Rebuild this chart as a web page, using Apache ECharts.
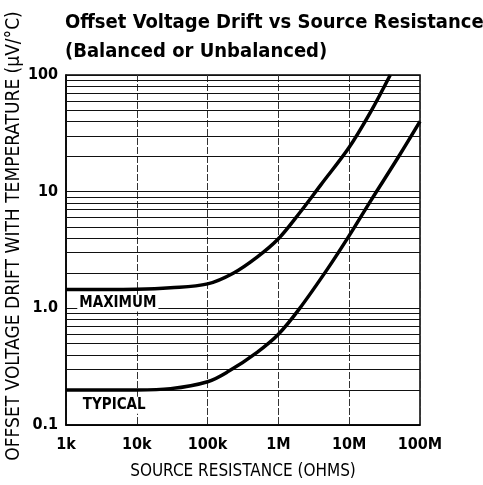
<!DOCTYPE html>
<html>
<head>
<meta charset="utf-8">
<script src="https://cdn.jsdelivr.net/npm/echarts@6/dist/echarts.min.js"></script>
<style>
  html, body { margin: 0; padding: 0; background: #fff; }
  #chart { width: 483px; height: 485px; }
</style>
</head>
<body>
<div id="chart"></div>
<script>
// source resistance (ohms) / drift (uV/C)
var maxR = [1e3, 1e4, 3e4, 1e5, 2.3e5, 5e5, 1e6, 2e6, 4e6, 1e7, 2e7, 3.8e7]
var maxDrift = [1.45, 1.46, 1.5, 1.62, 2.0, 2.75, 3.95, 6.6, 11.5, 24, 48, 100]
var typR = [1e3, 1e4, 3e4, 1e5, 2e5, 5e5, 1e6, 2e6, 5e6, 1e7, 2e7, 5e7, 1e8]
var typDrift = [0.2, 0.2, 0.205, 0.235, 0.29, 0.42, 0.6, 1.0, 2.2, 4.2, 8.3, 20, 40]

var xTickLabels = ['1k', '10k', '100k', '1M', '10M', '100M']
var yTickLabels = ['0.1', '1.0', '10', '100']
// minor horizontal grid lines (2..9 of each decade)
var minorGrid = [0.2, 0.3, 0.4, 0.5, 0.6, 0.7, 0.8, 0.9,
  2, 3, 4, 5, 6, 7, 8, 9,
  20, 30, 40, 50, 60, 70, 80, 90]

var narrow = "'Liberation Sans Narrow', 'DejaVu Sans Condensed', sans-serif"

function pairs (xs, ys) {
  var out = []
  for (var i = 0; i < xs.length; i++) out.push([xs[i], ys[i]])
  return out
}
// decade index of a tick value (1e3 -> 0, 0.1 -> 0)
function decade (v, base) {
  return Math.round(Math.log10(v / base))
}

var chart = echarts.init(document.getElementById('chart'))
var option = {
  animation: false,
  backgroundColor: '#fff',
  title: {
    text: 'Offset Voltage Drift vs Source Resistance\n(Balanced or Unbalanced)',
    left: 60,
    top: 3,
    textStyle: {
      fontFamily: narrow,
      fontSize: 20,
      fontWeight: 900,
      color: '#000',
      lineHeight: 29
    }
  },
  grid: {
    left: 66,
    top: 75,
    width: 354,
    height: 350,
    containLabel: false,
    outerBoundsMode: 'none',
    show: true,
    borderColor: '#000',
    borderWidth: 1.5,
    backgroundColor: '#fff'
  },
  xAxis: {
    type: 'log',
    logBase: 10,
    min: 1e3,
    max: 1e8,
    name: 'SOURCE RESISTANCE (OHMS)',
    nameLocation: 'middle',
    nameGap: 38,
    nameTextStyle: { fontFamily: narrow, fontSize: 17, color: '#000' },
    axisLine: { lineStyle: { color: '#000', width: 1.5 } },
    axisTick: { show: false },
    axisLabel: {
      margin: 12,
      fontFamily: narrow,
      fontSize: 16,
      fontWeight: 'bold',
      color: '#000',
      formatter: function (v) { return xTickLabels[decade(v, 1e3)] }
    },
    splitLine: { show: true, lineStyle: { color: '#333', width: 1, type: [7, 2] } }
  },
  yAxis: {
    type: 'log',
    logBase: 10,
    min: 0.1,
    max: 100,
    name: 'OFFSET VOLTAGE DRIFT WITH TEMPERATURE (\u03bcV/\u00b0C)',
    nameLocation: 'middle',
    nameGap: 42,
    nameMoveOverlap: false,
    nameTextStyle: { fontFamily: narrow, fontSize: 19, color: '#000', padding: [0, 0, 0, 28] },
    axisLine: { lineStyle: { color: '#000', width: 1.5 } },
    axisTick: { show: false },
    axisLabel: {
      margin: 8,
      fontFamily: narrow,
      fontSize: 16,
      fontWeight: 'bold',
      color: '#000',
      formatter: function (v) { return yTickLabels[decade(v, 0.1)] }
    },
    splitLine: { show: true, lineStyle: { color: '#111', width: 1 } }
  },
  series: [
    {
      type: 'line',
      data: [],
      silent: true,
      markLine: {
        silent: true,
        symbol: 'none',
        label: { show: false },
        lineStyle: { color: '#111', width: 1, type: 'solid' },
        data: minorGrid.map(function (v) { return { yAxis: v } })
      }
    },
    {
      name: 'MAXIMUM',
      type: 'line',
      smooth: 0.35,
      showSymbol: false,
      lineStyle: { color: '#000', width: 3.5 },
      data: pairs(maxR, maxDrift),
      z: 5,
      markPoint: {
        symbol: 'rect',
        symbolSize: 0,
        label: {
          show: true,
          formatter: 'MAXIMUM',
          fontFamily: narrow,
          fontSize: 15,
          fontWeight: 'bold',
          color: '#000',
          backgroundColor: '#fff',
          padding: [1, 2]
        },
        data: [{ coord: [5.4e3, 1.11] }]
      }
    },
    {
      name: 'TYPICAL',
      type: 'line',
      smooth: 0.35,
      showSymbol: false,
      lineStyle: { color: '#000', width: 3.5 },
      data: pairs(typR, typDrift),
      z: 5,
      markPoint: {
        symbol: 'rect',
        symbolSize: 0,
        label: {
          show: true,
          formatter: 'TYPICAL',
          fontFamily: narrow,
          fontSize: 15,
          fontWeight: 'bold',
          color: '#000',
          backgroundColor: '#fff',
          padding: [1, 2]
        },
        data: [{ coord: [4.8e3, 0.148] }]
      }
    }
  ]
}
chart.setOption(option)
</script>
</body>
</html>
